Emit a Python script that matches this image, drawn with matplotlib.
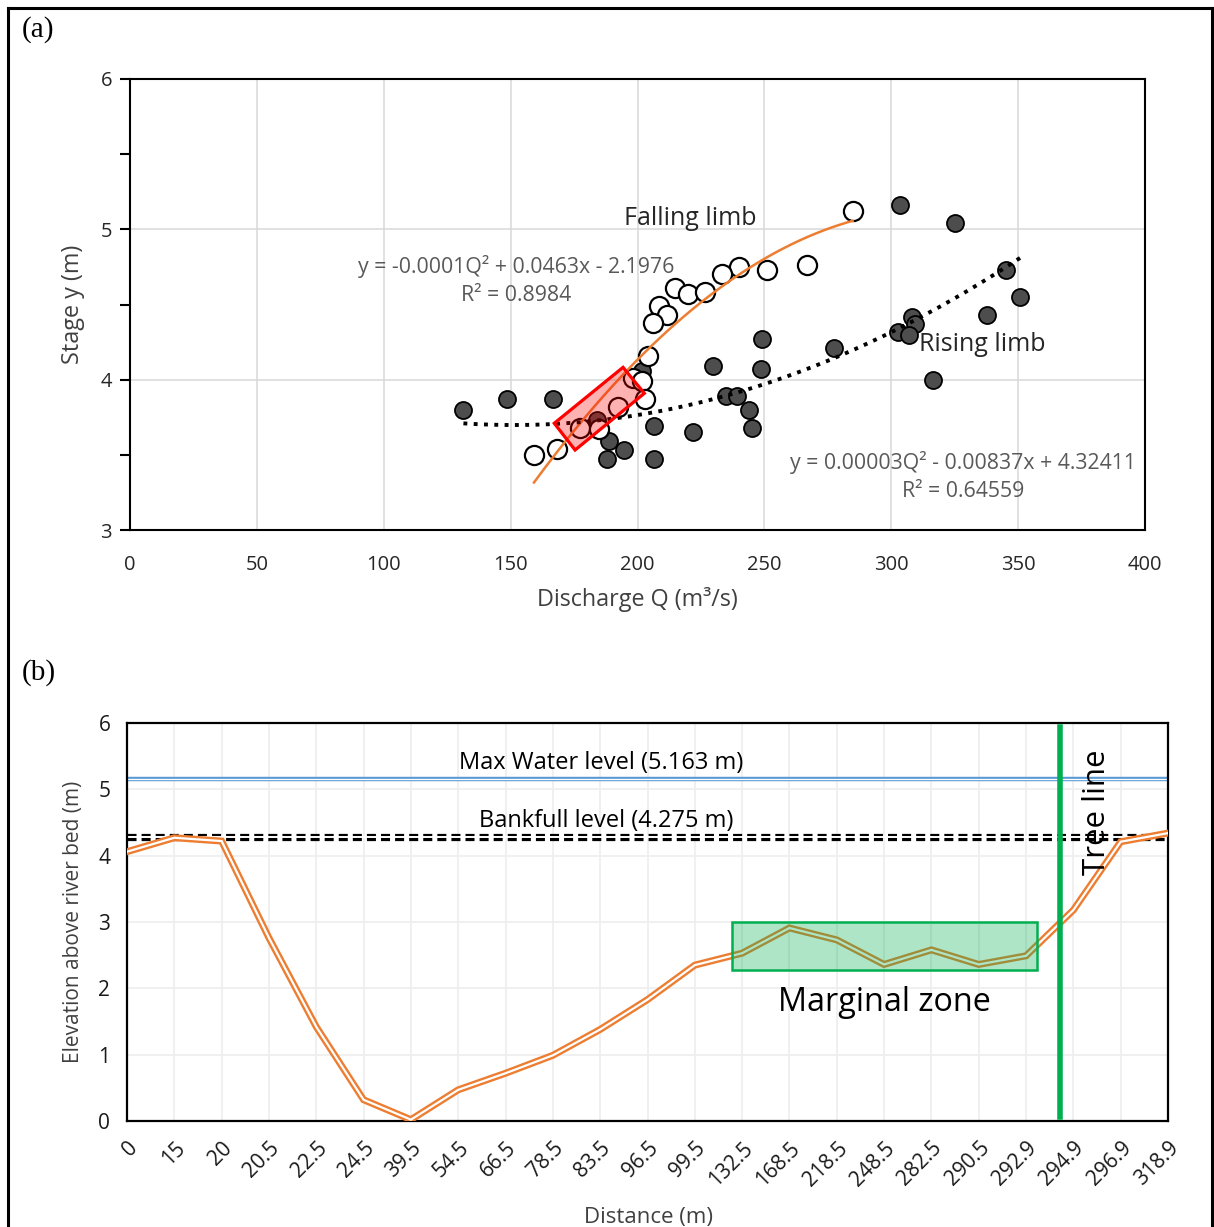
import numpy as np
import matplotlib.pyplot as plt
from matplotlib.patches import Polygon, Rectangle
from matplotlib.lines import Line2D

plt.rcParams['font.family'] = ['Open Sans', 'DejaVu Sans']

# (a) stage-discharge: falling limb (open) and rising limb (filled)
q_falling = [284.8, 240.0, 233.2, 250.9, 266.8, 214.8, 219.8, 226.6, 208.6, 211.5,
             206.2, 204.3, 198.1, 201.6, 203.0, 192.4, 177.3, 184.9, 168.2, 159.2]
stage_falling = [5.12, 4.75, 4.70, 4.73, 4.76, 4.61, 4.57, 4.58, 4.49, 4.43,
                 4.38, 4.16, 4.01, 3.99, 3.87, 3.82, 3.68, 3.67, 3.54, 3.50]

q_rising = [131.4, 148.4, 166.6, 183.9, 201.9, 188.9, 194.8, 188.1, 206.6, 206.6,
            229.6, 222.0, 234.7, 239.1, 244.1, 245.2, 248.9, 248.7, 277.6, 303.6,
            325.3, 345.2, 350.9, 337.7, 308.3, 309.5, 302.7, 306.9, 316.6]
stage_rising = [3.80, 3.87, 3.87, 3.73, 4.06, 3.59, 3.53, 3.47, 3.69, 3.47,
                4.09, 3.65, 3.89, 3.89, 3.80, 3.68, 4.27, 4.07, 4.21, 5.16,
                5.04, 4.73, 4.55, 4.43, 4.42, 4.37, 4.32, 4.30, 4.00]

# highlighted hysteresis crossing (corner points, Q / stage)
box_q = [194.3, 202.7, 175.4, 167.2]
box_stage = [4.082, 3.909, 3.532, 3.710]

# (b) channel cross-section
distance_labels = ['0', '15', '20', '20.5', '22.5', '24.5', '39.5', '54.5', '66.5',
                   '78.5', '83.5', '96.5', '99.5', '132.5', '168.5', '218.5', '248.5',
                   '282.5', '290.5', '292.9', '294.9', '296.9', '318.9']
elevation = [4.06, 4.27, 4.22, 2.76, 1.42, 0.32, 0.02, 0.47, 0.72, 0.99, 1.38,
             1.83, 2.35, 2.53, 2.91, 2.73, 2.36, 2.58, 2.36, 2.49, 3.18, 4.21, 4.34]
max_water_level = 5.163
bankfull_level = 4.275
tree_line_pos = 19.72
marginal_zone = (12.79, 19.24, 2.28, 3.0)

orange = '#ED7D31'
green = '#00B050'
txt_grey = '#595959'

fig = plt.figure(figsize=(12.14, 12.27), dpi=100)

# outer frame
for xs, ys in [([7.5, 7.5], [0, 1219.5]), ([7.5, 1212], [1219.5, 1219.5]),
               ([1212, 1212], [0, 1219.5])]:
    fig.add_artist(Line2D([x / 1214 for x in xs], [y / 1227 for y in ys],
                          color='black', lw=2.2))

fig.text(22 / 1214, 1 - 30 / 1227, '(a)', family='Liberation Serif', fontsize=21,
         va='center', ha='left')
fig.text(22 / 1214, 1 - 673 / 1227, '(b)', family='Liberation Serif', fontsize=21,
         va='center', ha='left')

# ---------------- (a) ----------------
ax = fig.add_axes([130 / 1214, 1 - 530 / 1227, 1015 / 1214, 451 / 1227])
ax.set_xlim(0, 400)
ax.set_ylim(3, 6)
ax.set_xticks(np.arange(0, 401, 50))
ax.set_yticks([3, 4, 5, 6])
ax.set_yticks([3.5, 4.5, 5.5], minor=True)
ax.grid(True, color='#d9d9d9', lw=1.1)
ax.set_axisbelow(True)
for s in ax.spines.values():
    s.set_color('black')
    s.set_linewidth(1.5)
ax.tick_params(axis='x', length=0, pad=18, labelsize=14.5, labelcolor='#262626')
ax.tick_params(axis='y', which='both', length=7, width=1.5, direction='out',
               pad=6, labelsize=14.5, labelcolor='#262626')

ax.scatter(q_rising, stage_rising, s=150, facecolor='#4d4d4d', edgecolor='black',
           lw=1.3, zorder=3)
ax.scatter(q_falling, stage_falling, s=190, facecolor='white', edgecolor='black',
           lw=1.6, zorder=3)

coef_f = np.polyfit(q_falling, stage_falling, 2)
qf = np.linspace(min(q_falling), max(q_falling), 200)
ax.plot(qf, np.polyval(coef_f, qf), color=orange, lw=1.8, zorder=4)

coef_r = np.polyfit(q_rising, stage_rising, 2)
qr = np.linspace(min(q_rising), max(q_rising), 200)
ax.plot(qr, np.polyval(coef_r, qr), color='black', lw=2.8, ls=':', zorder=4)

ax.add_patch(Polygon(list(zip(box_q, box_stage)), closed=True, facecolor=(1, 0, 0, 0.3),
                     edgecolor='red', lw=2.3, zorder=5))

ax.text(220.7, 5.075, 'Falling limb', fontsize=18, color='#262626', ha='center', va='center')
ax.text(310.9, 4.237, 'Rising limb', fontsize=18, color='#262626', ha='left', va='center')
ax.text(152.1, 4.66, 'y = -0.0001Q² + 0.0463x - 2.1976\nR² = 0.8984', fontsize=15.3,
        color=txt_grey, ha='center', va='center', linespacing=1.45)
ax.text(328.3, 3.356, 'y = 0.00003Q² - 0.00837x + 4.32411\nR² = 0.64559', fontsize=15.3,
        color=txt_grey, ha='center', va='center', linespacing=1.45)

ax.set_xlabel('Discharge Q (m³/s)', fontsize=16.8, color='#404040', labelpad=9)
ax.set_ylabel('Stage y (m)', fontsize=16.8, color='#404040', labelpad=11)

# ---------------- (b) ----------------
bx = fig.add_axes([127 / 1214, 1 - 1121 / 1227, 1041 / 1214, 398 / 1227])
x = np.arange(len(elevation))
bx.set_xlim(0, len(elevation) - 1)
bx.set_ylim(0, 6)
bx.set_xticks(x)
bx.set_xticklabels(distance_labels, rotation=45, ha='right', rotation_mode='anchor')
bx.set_yticks(range(7))
bx.grid(True, color='#eeeeee', lw=1.2)
bx.set_axisbelow(True)
for s in bx.spines.values():
    s.set_color('black')
    s.set_linewidth(1.6)
bx.tick_params(axis='both', length=0, labelsize=15, labelcolor='#1a1a1a')
bx.tick_params(axis='x', pad=12)
bx.tick_params(axis='y', pad=12)

# double (compound) lines
bx.axhline(max_water_level, color='#5B9BD5', lw=3.2, zorder=2)
bx.axhline(max_water_level, color='white', lw=0.9, zorder=2)
bx.axhline(bankfull_level, color='black', lw=5.2, ls=(0, (1.25, 0.7)), zorder=2)
bx.axhline(bankfull_level, color='white', lw=1.4, zorder=2)

bx.plot(x, elevation, color=orange, lw=5, zorder=3, solid_joinstyle='miter')
bx.plot(x, elevation, color='white', lw=1.6, zorder=3, solid_joinstyle='miter')

x0, x1, y0, y1 = marginal_zone
bx.add_patch(Rectangle((x0, y0), x1 - x0, y1 - y0, facecolor=green, alpha=0.32,
                       edgecolor='none', zorder=4))
bx.add_patch(Rectangle((x0, y0), x1 - x0, y1 - y0, facecolor='none',
                       edgecolor=green, lw=1.8, zorder=4))

bx.axvline(tree_line_pos, ymin=0.01, ymax=0.99, color=green, lw=4, zorder=5)

bx.text(10.02, 5.40, 'Max Water level (5.163 m)', fontsize=17, color='black',
        ha='center', va='center')
bx.text(10.12, 4.52, 'Bankfull level (4.275 m)', fontsize=17, color='black',
        ha='center', va='center')
bx.text(16.0, 1.78, 'Marginal zone', fontsize=23.3, color='black', ha='center', va='center')
bx.text(20.5, 4.66, 'Tree line', fontsize=22.5, color='black', ha='center', va='center',
        rotation=90, zorder=6)

bx.set_ylabel('Elevation above river bed (m)', fontsize=15, color='#404040', labelpad=10)
fig.text(648 / 1214, 1 - 1218 / 1227, 'Distance (m)', fontsize=16, color='#404040',
         ha='center', va='center')

fig.savefig('out.png', dpi=100)
